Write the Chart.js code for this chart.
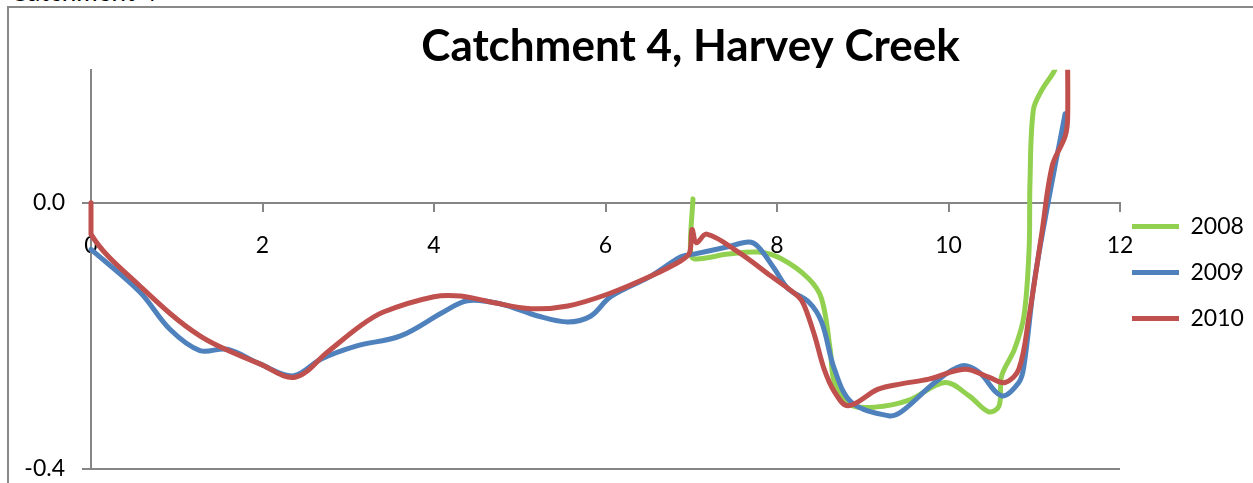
<!DOCTYPE html>
<html>
<head>
<meta charset="utf-8">
<script src="https://cdn.jsdelivr.net/npm/chart.js@4.4.1/dist/chart.umd.min.js"></script>
<style>
  html, body { margin: 0; padding: 0; background: #fff; overflow: hidden; width: 1253px; height: 483px; }
  #caption { position: absolute; left: 10px; top: -21px; font: 26px Lato, sans-serif; line-height: 24px; color: #000; white-space: nowrap; }
  #frame { position: absolute; left: 7px; top: 6px; width: 1400px; height: 600px; border-left: 2px solid #898989; border-top: 2px solid #898989; }
  #wrap { position: absolute; left: 0; top: 0; width: 1253px; height: 483px; }
</style>
</head>
<body>
<div id="caption">Catchment 4</div>
<div id="frame"></div>
<div id="wrap"><canvas id="chart" width="1253" height="483"></canvas></div>
<script>
// Survey profiles: distance along transect (x) against elevation change (y)
const x2008 = [7.02, 6.99, 7.03, 7.43, 7.78, 8.05, 8.37, 8.52, 8.62, 8.67, 8.83, 9.14, 9.53, 9.96, 10.24, 10.47, 10.59, 10.62, 10.77, 10.88, 10.94, 10.95, 10.99, 11.09, 11.24, 11.35];
const y2008 = [0.006, -0.07, -0.084, -0.077, -0.074, -0.084, -0.114, -0.144, -0.22, -0.27, -0.302, -0.307, -0.297, -0.27, -0.29, -0.314, -0.305, -0.26, -0.22, -0.17, -0.069, 0.03, 0.14, 0.17, 0.2, 0.24];

const x2009 = [0, 0.57, 0.92, 1.27, 1.59, 1.97, 2.36, 2.68, 3.1, 3.61, 4.11, 4.39, 4.78, 5.21, 5.56, 5.83, 6.06, 6.53, 6.88, 7.03, 7.43, 7.67, 7.78, 7.97, 8.13, 8.37, 8.52, 8.67, 8.87, 9.3, 9.45, 9.84, 10.15, 10.35, 10.62, 10.82, 10.88, 11.0, 11.17, 11.32, 11.36];
const y2009 = [-0.07, -0.134, -0.19, -0.222, -0.22, -0.242, -0.26, -0.235, -0.215, -0.2, -0.164, -0.147, -0.152, -0.17, -0.179, -0.17, -0.141, -0.11, -0.081, -0.077, -0.066, -0.059, -0.066, -0.099, -0.129, -0.149, -0.179, -0.25, -0.3, -0.32, -0.314, -0.27, -0.245, -0.254, -0.29, -0.27, -0.245, -0.119, 0.006, 0.107, 0.134];

const x2010 = [0, 0, 0.57, 1.27, 1.97, 2.38, 2.76, 3.14, 3.41, 4.0, 4.31, 4.66, 5.13, 5.56, 6.03, 6.53, 6.88, 6.98, 7.01, 7.06, 7.18, 7.55, 7.93, 8.25, 8.32, 8.44, 8.55, 8.67, 8.83, 9.18, 9.45, 9.77, 10.19, 10.47, 10.66, 10.82, 10.94, 11.09, 11.21, 11.36, 11.39, 11.38];
const y2010 = [0.0, -0.047, -0.125, -0.2, -0.242, -0.262, -0.224, -0.185, -0.164, -0.141, -0.14, -0.149, -0.159, -0.155, -0.137, -0.11, -0.087, -0.075, -0.04, -0.06, -0.047, -0.074, -0.11, -0.141, -0.155, -0.2, -0.25, -0.284, -0.305, -0.28, -0.272, -0.265, -0.25, -0.262, -0.27, -0.25, -0.17, -0.044, 0.056, 0.1, 0.13, 0.3];

const seriesNames = ['2008', '2009', '2010'];
const xTickValues = [0, 2, 4, 6, 8, 10, 12];
const yTickValues = [-0.4, 0.0];

const toPoints = (xs, ys) => xs.map((x, i) => ({ x: x, y: ys[i] }));

const AXIS_GREY = '#868686';

function lineSet(label, xs, ys, color, order) {
  return {
    label: label,
    data: toPoints(xs, ys),
    showLine: true,
    borderColor: color,
    backgroundColor: color,
    borderWidth: 5,
    borderCapStyle: 'round',
    borderJoinStyle: 'round',
    pointRadius: 0,
    pointHoverRadius: 0,
    tension: 0.35,
    order: order,
    clip: { left: 4, right: 4, top: 0, bottom: 4 }
  };
}

// widen the legend block leftwards and centre the title after layout
const blockPlacement = {
  id: 'blockPlacement',
  afterLayout(chart) {
    const lg = chart.legend;
    if (lg) { lg.left -= 11; lg.top += 3; lg.bottom += 3; }
    const tb = chart.titleBlock;
    if (tb) { tb.left += 64; tb.right += 64; }
  }
};

Chart.defaults.font.family = 'Lato, "Open Sans", sans-serif';
Chart.defaults.color = '#000';

new Chart(document.getElementById('chart'), {
  type: 'scatter',
  data: {
    datasets: [
      lineSet(seriesNames[0], x2008, y2008, '#92D050', 3),
      lineSet(seriesNames[1], x2009, y2009, '#4F81BD', 2),
      lineSet(seriesNames[2], x2010, y2010, '#C0504D', 1)
    ]
  },
  options: {
    responsive: false,
    animation: false,
    events: [],
    layout: { padding: { left: 0, right: 0, top: 0, bottom: 0 } },
    scales: {
      x: {
        type: 'linear',
        min: 0,
        max: 12,
        position: { y: 0 },
        afterBuildTicks: s => { s.ticks = xTickValues.map(v => ({ value: v })); },
        grid: { drawOnChartArea: false, drawTicks: true, tickLength: 8, color: AXIS_GREY, lineWidth: 2 },
        border: { display: true, color: AXIS_GREY, width: 2 },
        ticks: { color: '#000', font: { size: 23 }, padding: 21, maxRotation: 0, autoSkip: false }
      },
      y: {
        type: 'linear',
        min: -0.4,
        max: 0.2,
        afterBuildTicks: s => { s.ticks = yTickValues.map(v => ({ value: v })); },
        afterFit: s => { s.width = 91; s.paddingTop = 0; s.paddingBottom = 14; },
        grid: { drawOnChartArea: true, drawTicks: true, tickLength: 9, color: AXIS_GREY, lineWidth: 2 },
        border: { display: true, color: AXIS_GREY, width: 2 },
        ticks: { color: '#000', font: { size: 23 }, padding: 17, callback: v => Number(v).toFixed(1) }
      }
    },
    plugins: {
      title: {
        display: true,
        text: 'Catchment 4, Harvey Creek',
        color: '#000',
        font: { size: 44, weight: 'bold' },
        padding: { top: 20, bottom: -3 }
      },
      legend: {
        display: true,
        position: 'right',
        align: 'center',
        fullSize: false,
        maxWidth: 133,
        labels: {
          usePointStyle: true,
          pointStyle: 'line',
          pointStyleWidth: 47,
          padding: 23,
          color: '#000',
          font: { size: 23 },
          sort: (a, b) => a.datasetIndex - b.datasetIndex
        }
      },
      tooltip: { enabled: false }
    }
  },
  plugins: [blockPlacement]
});
</script>
</body>
</html>
